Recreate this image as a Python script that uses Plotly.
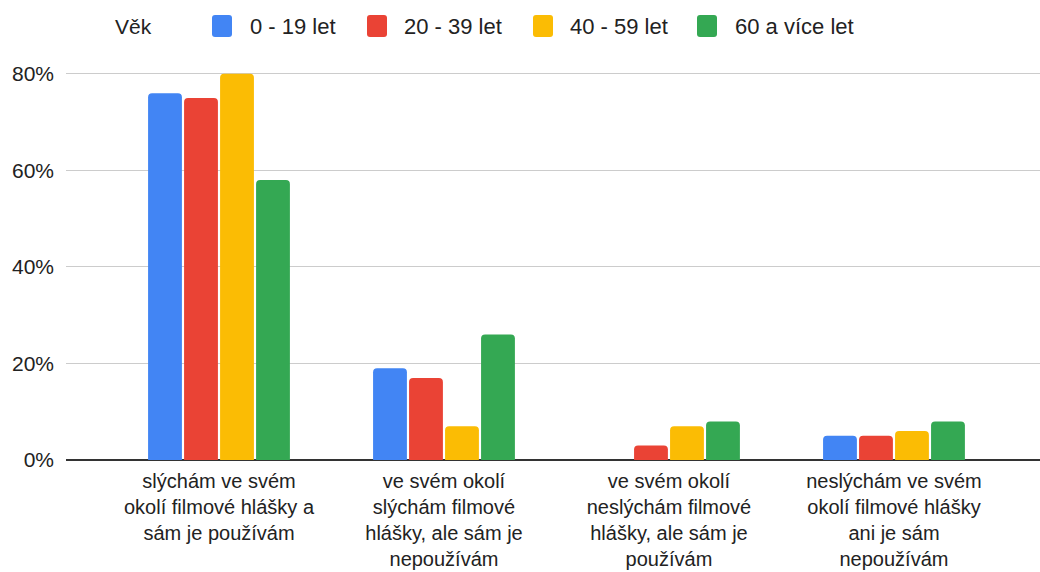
import plotly.graph_objects as go

# Survey answers (categories on the x axis)
categories = [
    "slýchám ve svém<br>okolí filmové hlášky a<br>sám je používám",
    "ve svém okolí<br>slýchám filmové<br>hlášky, ale sám je<br>nepoužívám",
    "ve svém okolí<br>neslýchám filmové<br>hlášky, ale sám je<br>používám",
    "neslýchám ve svém<br>okolí filmové hlášky<br>ani je sám<br>nepoužívám",
]

# Age groups
legend_title = "Věk"
series_names = ["0 - 19 let", "20 - 39 let", "40 - 59 let", "60 a více let"]

# Share of respondents per age group
values_0_19 = [0.76, 0.19, 0.00, 0.05]
values_20_39 = [0.75, 0.17, 0.03, 0.05]
values_40_59 = [0.80, 0.07, 0.07, 0.06]
values_60_plus = [0.58, 0.26, 0.08, 0.08]

y_tickvals = [0, 0.2, 0.4, 0.6, 0.8]

# ---- styling / layout constants ----
colors = ["#4285F4", "#EA4335", "#FBBC04", "#34A853"]
FONT = "Arial, 'Liberation Sans', sans-serif"
TEXT = "#222222"
W, H = 1040, 572
ML, MR, MT, MB = 66, 0, 69, 112
PW, PH = W - ML - MR, H - MT - MB

series_values = [values_0_19, values_20_39, values_40_59, values_60_plus]

fig = go.Figure()
for name, vals, col in zip(series_names, series_values, colors):
    fig.add_trace(go.Bar(
        x=categories, y=vals, name=name,
        marker=dict(color=col, line=dict(width=0)),
        showlegend=False,
        hovertemplate="%{y:.0%}<extra>" + name + "</extra>",
    ))


def px_x(x):
    return (x - ML) / PW


def px_y(y):
    return (H - MB - y) / PH


def rounded_rect(x0, y0, x1, y1, r):
    # rounded rectangle path in paper coordinates from pixel corners
    X = px_x
    Y = px_y
    return (
        f"M {X(x0 + r)},{Y(y0)} L {X(x1 - r)},{Y(y0)} "
        f"Q {X(x1)},{Y(y0)} {X(x1)},{Y(y0 + r)} "
        f"L {X(x1)},{Y(y1 - r)} Q {X(x1)},{Y(y1)} {X(x1 - r)},{Y(y1)} "
        f"L {X(x0 + r)},{Y(y1)} Q {X(x0)},{Y(y1)} {X(x0)},{Y(y1 - r)} "
        f"L {X(x0)},{Y(y0 + r)} Q {X(x0)},{Y(y0)} {X(x0 + r)},{Y(y0)} Z"
    )


# Legend drawn along the top
legend_y = 26
swatch_x = [212, 367, 533, 697]
label_x = [248, 402, 568, 733]
shapes = []
annotations = [dict(
    text=legend_title, x=px_x(113), y=px_y(legend_y), xref="paper", yref="paper",
    xanchor="left", yanchor="middle", showarrow=False,
    font=dict(family=FONT, size=21, color=TEXT),
)]
for name, col, sx, lx in zip(series_names, colors, swatch_x, label_x):
    shapes.append(dict(
        type="path", xref="paper", yref="paper",
        path=rounded_rect(sx, legend_y - 11, sx + 20, legend_y + 11, 3),
        fillcolor=col, line=dict(width=0),
    ))
    annotations.append(dict(
        text=name, x=px_x(lx), y=px_y(legend_y), xref="paper", yref="paper",
        xanchor="left", yanchor="middle", showarrow=False,
        font=dict(family=FONT, size=22, color=TEXT),
    ))

fig.update_layout(
    width=W, height=H,
    margin=dict(l=ML, r=MR, t=MT, b=MB, pad=0),
    paper_bgcolor="white", plot_bgcolor="white",
    barmode="group", bargap=0.36, bargroupgap=0.06, barcornerradius=4,
    font=dict(family=FONT, size=20, color=TEXT),
    shapes=shapes, annotations=annotations,
    showlegend=False,
    xaxis=dict(
        range=[-0.68, 3.649], showgrid=False, zeroline=False, showline=False,
        ticks="", tickfont=dict(size=20, color=TEXT), ticklabelstandoff=7,
        automargin=False, fixedrange=True,
    ),
    yaxis=dict(
        range=[0, 0.81], tickvals=y_tickvals, tickformat=".0%",
        showgrid=True, gridcolor="#CCCCCC", gridwidth=1,
        zeroline=True, zerolinecolor="#333333", zerolinewidth=2,
        showline=False, ticks="", tickfont=dict(size=21, color=TEXT),
        ticklabelstandoff=11, automargin=False, fixedrange=True,
    ),
)

fig.write_html("out.html")
